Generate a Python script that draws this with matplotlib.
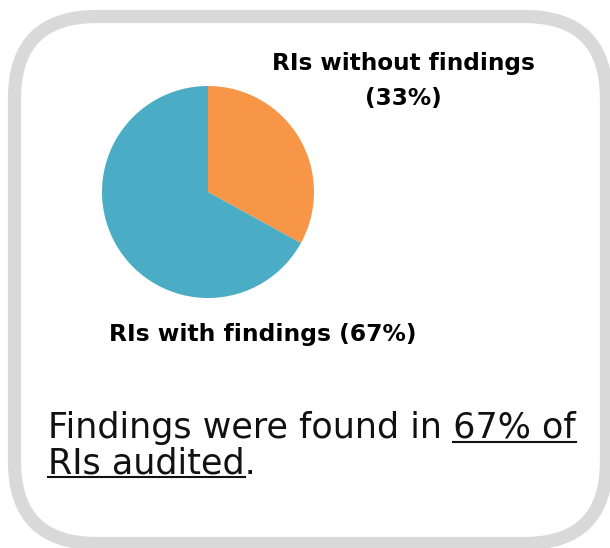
import matplotlib
matplotlib.use('Agg')
import matplotlib.pyplot as plt
from matplotlib.patches import FancyBboxPatch

# data
slice_labels = ['RIs without findings\n(33%)', 'RIs with findings (67%)']
shares = [33, 67]
colors = ['#F79646', '#4BACC6']
line1_pre = 'Findings were found in '
line1_ul = '67% of'
line2_ul = 'RIs audited'
line2_post = '.'

plt.rcParams['font.family'] = ['DejaVu Sans']

W, H = 610, 548
fig = plt.figure(figsize=(W / 100, H / 100), dpi=100)
bg = fig.add_axes([0, 0, 1, 1])
bg.set_xlim(0, W)
bg.set_ylim(H, 0)
bg.axis('off')

# rounded grey frame
box = FancyBboxPatch((14.5, 16.5), 592, 527,
                     boxstyle='round,pad=0,rounding_size=82',
                     fc='white', ec='#D9D9D9', lw=9.5, clip_on=False)
bg.add_patch(box)

# pie
ax = fig.add_axes([102 / W, 1 - 298 / H, 212 / W, 212 / H])
ax.pie(shares, colors=colors, startangle=90, counterclock=False,
       wedgeprops=dict(linewidth=0))
ax.set_xlim(-1, 1)
ax.set_ylim(-1, 1)
ax.set_aspect('equal')
ax.axis('off')

bg.text(403, 81, slice_labels[0], ha='center', va='center',
        fontsize=16.7, fontweight='bold', linespacing=1.65)
bg.text(263, 335, slice_labels[1], ha='center', va='center',
        fontsize=16.8, fontweight='bold')

# caption with underlined parts
fs = 25.2
r = fig.canvas.get_renderer()


def width(s):
    t = bg.text(0, 0, s, fontsize=fs)
    w = t.get_window_extent(r).width
    t.remove()
    return w


x0 = 48
y1, y2 = 438, 473
bg.text(x0, y1, line1_pre + line1_ul, fontsize=fs, va='baseline', color='#111111')
wfull = width(line1_pre + line1_ul)
wul = width(line1_ul)
bg.plot([x0 + wfull - wul, x0 + wfull], [y1 + 4, y1 + 4], color='#111111', lw=1.5)

bg.text(x0, y2, line2_ul + line2_post, fontsize=fs, va='baseline', color='#111111')
bg.plot([x0, x0 + width(line2_ul)], [y2 + 4, y2 + 4], color='#111111', lw=1.5)

fig.savefig('out.png', dpi=100)
